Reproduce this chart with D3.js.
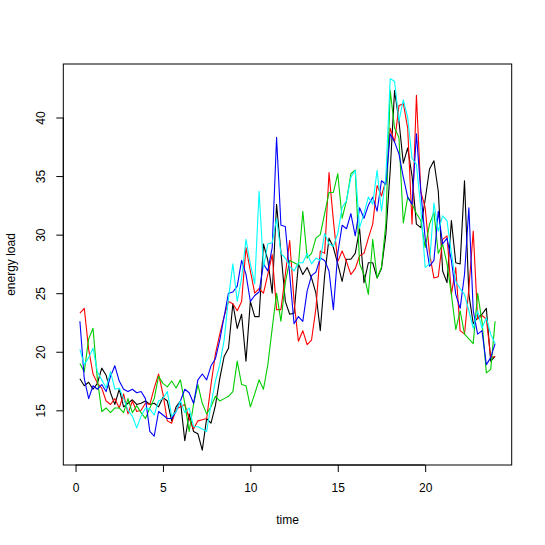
<!DOCTYPE html>
<html>
<head>
<meta charset="utf-8">
<script src="https://cdn.jsdelivr.net/npm/d3@7"></script>
<style>
  body { margin: 0; background: #fff; }
  text { font-family: "Liberation Sans", Arial, sans-serif; }
</style>
</head>
<body>
<svg id="chart" width="545" height="545"></svg>
<script>
// time of day, every quarter hour
const time = d3.range(1, 97).map(i => i * 0.25);

// energy load per series, 4 values per hour
const loadBlack = [
  17.7, 17.1, 17.4, 16.8,  17.3, 18.6, 18.0, 16.5,  15.5, 16.8, 15.3, 15.6,
  15.9, 15.5, 15.6, 15.8,  15.5, 15.6, 15.3, 16.1,  15.8, 14.1, 15.3, 15.8,
  12.4, 14.7, 13.2, 13.0,  11.6, 14.3, 13.9, 15.4,  17.7, 19.6, 20.3, 24.1,
  22.0, 23.2, 19.2, 24.3,  23.0, 23.0, 29.2, 27.8,  25.0, 32.6, 28.5, 24.3,
  23.2, 23.3, 27.5, 26.6,  27.2, 26.3, 25.0, 21.8,  26.5, 29.7, 28.9, 27.5,
  26.0, 27.9, 27.9, 28.4,  30.5, 25.9, 27.6, 27.6,  26.3, 27.1, 30.0, 35.5,
  42.3, 39.7, 36.1, 37.4,  35.0, 30.9, 30.6, 33.0,  35.6, 36.3, 33.7, 26.9,
  25.9, 31.2, 27.6, 27.5,  34.6, 24.9, 22.4, 22.9,  23.2, 23.7, 19.2, 19.6
];
const loadRed = [
  23.3, 23.7, 20.2, 18.1,  17.3, 16.9, 15.8, 15.5,  16.0, 15.2, 16.4, 14.7,
  15.8, 14.9, 15.0, 15.6,  15.5, 16.9, 18.1, 16.4,  14.1, 13.9, 15.1, 15.3,
  15.5, 14.3, 13.4, 14.1,  14.2, 14.3, 17.2, 19.8,  21.5, 23.0, 24.3, 24.1,
  23.5, 24.3, 28.9, 26.9,  25.0, 25.4, 25.0, 26.6,  28.3, 23.6, 23.6, 26.6,
  29.5, 24.3, 20.9, 21.8,  20.6, 21.0, 23.7, 28.6,  28.4, 35.3, 31.2, 27.7,
  28.6, 27.7, 26.6, 27.1,  28.2, 28.4, 29.7, 30.9,  34.2, 33.3, 34.6, 39.1,
  37.9, 41.0, 41.2, 39.1,  30.9, 41.9, 33.7, 32.3,  28.4, 26.3, 26.4, 29.6,
  29.9, 24.9, 27.2, 21.8,  21.5, 25.4, 30.3, 22.8,  23.1, 22.8, 19.5, 19.6
];
const loadGreen = [
  19.0, 18.3, 21.1, 22.0,  17.6, 14.9, 15.2, 14.8,  15.2, 15.2, 14.8, 16.0,
  14.8, 15.4, 14.8, 14.3,  15.2, 16.0, 17.9, 17.3,  17.0, 17.5, 16.9, 17.6,
  15.6, 13.2, 15.5, 17.2,  15.6, 14.7, 15.3, 16.2,  15.8, 16.0, 16.2, 16.6,
  19.2, 17.2, 17.1, 15.3,  16.4, 17.6, 16.8, 18.9,  22.0, 25.0, 22.6, 25.9,
  27.8, 27.6, 27.4, 32.0,  28.0, 28.4, 29.7, 30.0,  31.8, 33.6, 33.6, 35.2,
  31.4, 32.9, 35.2, 35.5,  27.5, 26.6, 24.9, 29.6,  26.3, 27.2, 30.9, 42.3,
  39.1, 38.3, 31.0, 33.2,  32.6, 31.8, 31.2, 28.9,  30.9, 31.9, 28.4, 29.2,
  27.5, 24.9, 21.9, 23.5,  21.5, 21.1, 20.7, 25.0,  22.6, 18.2, 18.5, 22.6
];
const loadBlue = [
  22.6, 17.7, 16.0, 17.1,  16.8, 17.2, 16.6, 17.9,  18.8, 17.5, 16.8, 16.6,
  16.8, 16.5, 16.6, 16.0,  13.2, 12.8, 14.9, 14.6,  14.3, 14.3, 14.9, 15.8,
  16.8, 16.5, 15.6, 17.6,  18.1, 17.6, 18.8, 19.4,  21.0, 23.0, 25.0, 25.1,
  25.6, 27.8, 26.6, 24.3,  24.8, 25.1, 27.5, 26.9,  28.9, 38.3, 30.8, 30.7,
  26.6, 22.4, 23.0, 22.6,  25.2, 26.5, 26.8, 28.0,  27.8, 26.9, 23.6, 28.4,
  30.8, 30.5, 31.8, 29.9,  32.3, 31.4, 32.5, 33.2,  32.0, 34.6, 34.3, 38.6,
  37.9, 36.9, 34.9, 33.2,  32.6, 38.6, 33.7, 29.7,  27.3, 27.8, 32.0, 29.2,
  29.7, 27.8, 24.9, 23.7,  26.6, 32.3, 23.5, 21.5,  21.8, 18.9, 19.5, 20.7
];
const loadCyan = [
  20.2, 18.9, 19.5, 20.3,  18.3, 17.6, 16.9, 18.3,  16.8, 16.9, 16.0, 15.0,
  14.5, 13.5, 14.5, 15.2,  15.1, 14.6, 15.8, 16.0,  16.6, 14.5, 14.9, 15.8,
  14.8, 15.2, 13.6, 13.6,  13.4, 13.2, 15.5, 17.5,  18.9, 21.0, 24.6, 27.5,
  24.3, 26.3, 29.6, 27.5,  25.8, 33.7, 27.2, 29.2,  29.3, 31.4, 28.4, 28.0,
  27.3, 26.9, 27.6, 27.6,  28.4, 27.5, 28.0, 27.8,  30.1, 29.2, 29.0, 30.1,
  32.3, 32.9, 34.9, 35.5,  30.6, 31.8, 33.2, 32.6,  35.5, 32.0, 34.9, 43.3,
  43.1, 39.7, 41.5, 40.0,  36.5, 36.0, 32.3, 27.2,  27.5, 32.7, 30.3, 31.6,
  31.2, 28.4, 26.0, 25.4,  24.9, 23.5, 22.0, 23.5,  22.0, 22.9, 21.5, 20.7
];

const seriesColors = ["#000000", "#FF0000", "#00CD00", "#0000FF", "#00FFFF"];
const xTicks = [0, 5, 10, 15, 20];
const yTicks = [15, 20, 25, 30, 35, 40];

const allSeries = [loadBlack, loadRed, loadGreen, loadBlue, loadCyan];

// plot box (base R style)
const box = { left: 63.3, right: 511.7, top: 64, bottom: 465 };

// R pads the data range by 4% on each side
function padded(ext) {
    const d = (ext[1] - ext[0]) * 0.04;
    return [ext[0] - d, ext[1] + d];
}

const xScale = d3.scaleLinear()
    .domain(padded(d3.extent(time)))
    .range([box.left, box.right]);

const yScale = d3.scaleLinear()
    .domain(padded(d3.extent(allSeries.flat())))
    .range([box.bottom, box.top]);

const svg = d3.select("#chart");

// lines
const line = d3.line()
    .x((d, i) => xScale(time[i]))
    .y(d => yScale(d));

svg.append("g")
    .selectAll("path")
    .data(allSeries)
    .enter()
    .append("path")
    .attr("d", line)
    .attr("fill", "none")
    .attr("stroke", (d, i) => seriesColors[i])
    .attr("stroke-width", 1.1)
    .attr("stroke-linejoin", "round");

// box
svg.append("rect")
    .attr("x", box.left)
    .attr("y", box.top)
    .attr("width", box.right - box.left)
    .attr("height", box.bottom - box.top)
    .attr("fill", "none")
    .attr("stroke", "#000")
    .attr("stroke-width", 1);

// x axis
const xAxis = svg.append("g")
    .attr("transform", `translate(0,${box.bottom})`)
    .call(d3.axisBottom(xScale).tickValues(xTicks).tickSize(7).tickPadding(11).tickFormat(d3.format("d")));
xAxis.select(".domain").remove();
xAxis.append("line")
    .attr("x1", xScale(xTicks[0])).attr("x2", xScale(xTicks[xTicks.length - 1]))
    .attr("stroke", "#000");
xAxis.selectAll("text").attr("font-size", 12).attr("fill", "#000")
    .attr("font-family", "Liberation Sans, Arial, sans-serif");

// y axis, labels parallel to the axis
const yAxis = svg.append("g")
    .attr("transform", `translate(${box.left},0)`)
    .call(d3.axisLeft(yScale).tickValues(yTicks).tickSize(7).tickFormat(d3.format("d")));
yAxis.select(".domain").remove();
yAxis.append("line")
    .attr("y1", yScale(yTicks[0])).attr("y2", yScale(yTicks[yTicks.length - 1]))
    .attr("stroke", "#000");
yAxis.selectAll(".tick text")
    .attr("x", null).attr("dy", null)
    .attr("text-anchor", "middle")
    .attr("transform", "translate(-18,0) rotate(-90)")
    .attr("font-size", 12).attr("fill", "#000")
    .attr("font-family", "Liberation Sans, Arial, sans-serif");

// axis titles
svg.append("text")
    .attr("x", (box.left + box.right) / 2)
    .attr("y", 524)
    .attr("text-anchor", "middle")
    .attr("font-size", 12)
    .text("time");

svg.append("text")
    .attr("transform", `translate(15,${(box.top + box.bottom) / 2}) rotate(-90)`)
    .attr("text-anchor", "middle")
    .attr("font-size", 12)
    .text("energy load");
</script>
</body>
</html>
